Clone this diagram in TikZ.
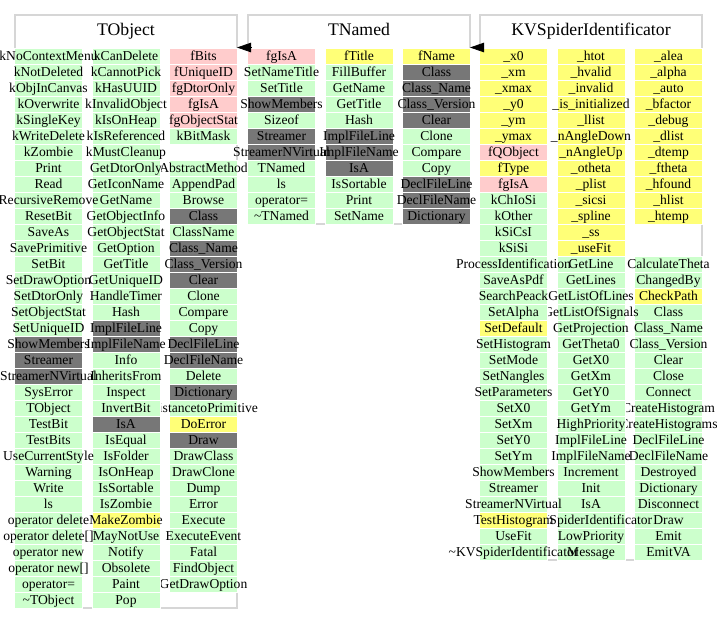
\documentclass[tikz,border=0pt]{standalone}
\usepackage{fontspec}
\setmainfont{Liberation Serif}
\usetikzlibrary{arrows.meta}

\definecolor{methfill}{HTML}{CCFFCC}
\definecolor{privfill}{HTML}{FFCCCC}
\definecolor{fldfill}{HTML}{FFFF77}
\definecolor{ovrfill}{HTML}{777777}
\definecolor{framegrey}{HTML}{D6D6D6}

\tikzset{
  classframe/.style={draw=framegrey, line width=1.3pt, fill=white, inner sep=0pt,
    outer sep=0pt, anchor=north west, minimum width=222pt},
  classtitle/.style={font=\fontsize{17.7}{20}\selectfont, anchor=base, inner sep=0pt},
  cellbox/.style={draw=white, line width=1pt, minimum width=68pt, minimum height=16pt,
    inner sep=0pt, outer sep=0pt},
  celltext/.style={font=\fontsize{13.6}{15}\selectfont, text height=11pt, text depth=3pt,
    inner sep=0pt},
  meth/.style={fill=methfill},
  priv/.style={fill=privfill},
  fld/.style={fill=fldfill},
  ovr/.style={fill=ovrfill},
  inherit/.style={-{Triangle[length=14pt,width=9.5pt]}, line width=0.8pt, black},
}

\def\emptykind{none}
% #1 class id, #2 left edge of the column, #3 column number, #4 kind/label list
\newcommand\cellcolumn[4]{%
  \foreach \kind/\txt [count=\r] in {#4}{%
    \ifx\kind\emptykind\else
      \node[cellbox,\kind] (#1-#3-\r) at ({#2+33.5},{40.5+16*\r}) {};
      \node[celltext] (#1-#3-\r-t) at (#1-#3-\r.center) {\txt};
    \fi}}

\begin{document}
\begin{tikzpicture}[x=1pt,y=-1pt]
\useasboundingbox (0,0) rectangle (717,624);

% class frames and titles
\node[classframe, minimum height=593pt] (tobject) at (15,15) {};
\node[classframe, minimum height=209pt] (tnamed) at (248,15) {};
\node[classframe, minimum height=545pt] (kvspider) at (480,15) {};
\node[classtitle] (tobject-title) at (126,35) {TObject};
\node[classtitle] (tnamed-title) at (359,35) {TNamed};
\node[classtitle] (kvspider-title) at (591,35) {KVSpiderIdentificator};

% columns are painted right to left, so a left column covers the overflow of the next one

% TObject
\cellcolumn{to}{170}{3}{priv/fBits, priv/fUniqueID, priv/fgDtorOnly, priv/fgIsA,
  priv/fgObjectStat, meth/kBitMask, none/, meth/AbstractMethod, meth/AppendPad,
  meth/Browse, ovr/Class, meth/ClassName, ovr/Class\_Name, ovr/Class\_Version,
  ovr/Clear, meth/Clone, meth/Compare, meth/Copy, ovr/DeclFileLine,
  ovr/DeclFileName, meth/Delete, ovr/Dictionary, meth/DistancetoPrimitive,
  fld/DoError, ovr/Draw, meth/DrawClass, meth/DrawClone, meth/Dump, meth/Error,
  meth/Execute, meth/ExecuteEvent, meth/Fatal, meth/FindObject, meth/GetDrawOption}
\cellcolumn{to}{92.5}{2}{meth/kCanDelete, meth/kCannotPick, meth/kHasUUID,
  meth/kInvalidObject, meth/kIsOnHeap, meth/kIsReferenced, meth/kMustCleanup,
  meth/GetDtorOnly, meth/GetIconName, meth/GetName, meth/GetObjectInfo,
  meth/GetObjectStat, meth/GetOption, meth/GetTitle, meth/GetUniqueID,
  meth/HandleTimer, meth/Hash, ovr/ImplFileLine, ovr/ImplFileName, meth/Info,
  meth/InheritsFrom, meth/Inspect, meth/InvertBit, ovr/IsA, meth/IsEqual,
  meth/IsFolder, meth/IsOnHeap, meth/IsSortable, meth/IsZombie, fld/MakeZombie,
  meth/MayNotUse, meth/Notify, meth/Obsolete, meth/Paint, meth/Pop}
\cellcolumn{to}{15}{1}{meth/kNoContextMenu, meth/kNotDeleted, meth/kObjInCanvas,
  meth/kOverwrite, meth/kSingleKey, meth/kWriteDelete, meth/kZombie, meth/Print,
  meth/Read, meth/RecursiveRemove, meth/ResetBit, meth/SaveAs, meth/SavePrimitive,
  meth/SetBit, meth/SetDrawOption, meth/SetDtorOnly, meth/SetObjectStat,
  meth/SetUniqueID, ovr/ShowMembers, ovr/Streamer, ovr/StreamerNVirtual,
  meth/SysError, meth/TObject, meth/TestBit, meth/TestBits, meth/UseCurrentStyle,
  meth/Warning, meth/Write, meth/ls, meth/operator delete, meth/operator delete[],
  meth/operator new, meth/operator new[], meth/operator=, meth/\textasciitilde TObject}

% TNamed
\cellcolumn{tn}{403}{3}{fld/fName, ovr/Class, ovr/Class\_Name, ovr/Class\_Version,
  ovr/Clear, meth/Clone, meth/Compare, meth/Copy, ovr/DeclFileLine,
  ovr/DeclFileName, ovr/Dictionary}
\cellcolumn{tn}{325.5}{2}{fld/fTitle, meth/FillBuffer, meth/GetName, meth/GetTitle,
  meth/Hash, ovr/ImplFileLine, ovr/ImplFileName, ovr/IsA, meth/IsSortable,
  meth/Print, meth/SetName}
\cellcolumn{tn}{248}{1}{priv/fgIsA, meth/SetNameTitle, meth/SetTitle,
  ovr/ShowMembers, meth/Sizeof, ovr/Streamer, ovr/StreamerNVirtual, meth/TNamed,
  meth/ls, meth/operator=, meth/\textasciitilde TNamed}

% KVSpiderIdentificator
\cellcolumn{kv}{635}{3}{fld/\_alea, fld/\_alpha, fld/\_auto, fld/\_bfactor,
  fld/\_debug, fld/\_dlist, fld/\_dtemp, fld/\_ftheta, fld/\_hfound, fld/\_hlist,
  fld/\_htemp, none/, none/, meth/CalculateTheta, meth/ChangedBy, fld/CheckPath,
  meth/Class, meth/Class\_Name, meth/Class\_Version, meth/Clear, meth/Close,
  meth/Connect, meth/CreateHistogram, meth/CreateHistograms, meth/DeclFileLine,
  meth/DeclFileName, meth/Destroyed, meth/Dictionary, meth/Disconnect, meth/Draw,
  meth/Emit, meth/EmitVA}
\cellcolumn{kv}{557.5}{2}{fld/\_htot, fld/\_hvalid, fld/\_invalid,
  fld/\_is\_initialized, fld/\_llist, fld/\_nAngleDown, fld/\_nAngleUp,
  fld/\_otheta, fld/\_plist, fld/\_sicsi, fld/\_spline, fld/\_ss, fld/\_useFit,
  meth/GetLine, meth/GetLines, meth/GetListOfLines, meth/GetListOfSignals,
  meth/GetProjection, meth/GetTheta0, meth/GetX0, meth/GetXm, meth/GetY0,
  meth/GetYm, meth/HighPriority, meth/ImplFileLine, meth/ImplFileName,
  meth/Increment, meth/Init, meth/IsA, meth/KVSpiderIdentificator,
  meth/LowPriority, meth/Message}
\cellcolumn{kv}{480}{1}{fld/\_x0, fld/\_xm, fld/\_xmax, fld/\_y0, fld/\_ym,
  fld/\_ymax, priv/fQObject, fld/fType, priv/fgIsA, meth/kChIoSi, meth/kOther,
  meth/kSiCsI, meth/kSiSi, meth/ProcessIdentification, meth/SaveAsPdf,
  meth/SearchPeack, meth/SetAlpha, fld/SetDefault, meth/SetHistogram, meth/SetMode,
  meth/SetNangles, meth/SetParameters, meth/SetX0, meth/SetXm, meth/SetY0,
  meth/SetYm, meth/ShowMembers, meth/Streamer, meth/StreamerNVirtual,
  fld/TestHistogram, meth/UseFit, meth/\textasciitilde KVSpiderIdentificator}

% inheritance arrows
\draw[inherit] ([shift={(3,32.5)}]tnamed.north west) -- ([shift={(0,32.5)}]tobject.north east);
\draw[inherit] ([shift={(3,32.5)}]kvspider.north west) -- ([shift={(0,32.5)}]tnamed.north east);
\end{tikzpicture}
\end{document}
